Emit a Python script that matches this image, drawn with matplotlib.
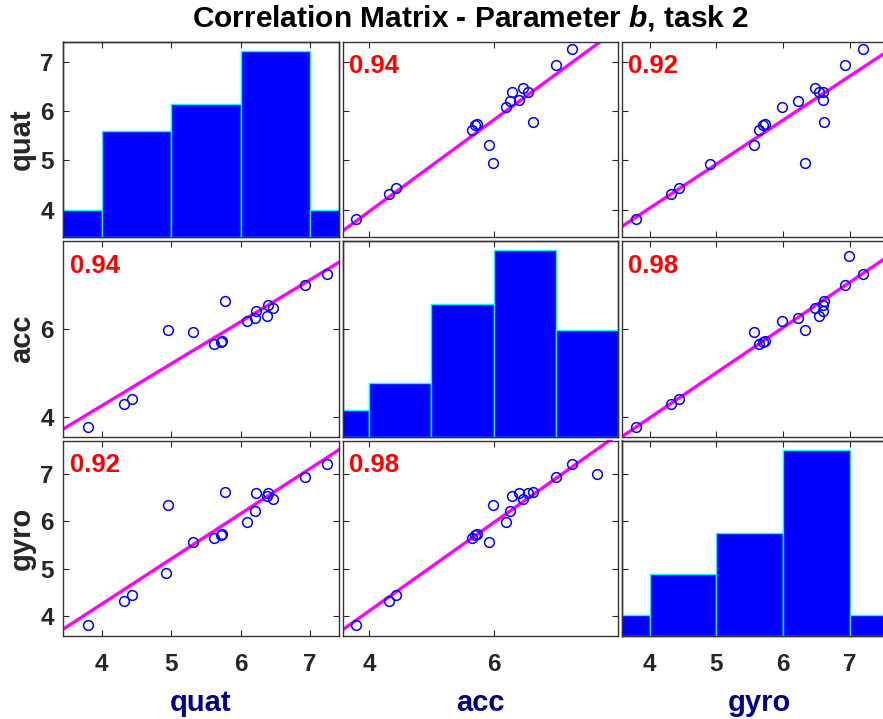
import numpy as np
import matplotlib
matplotlib.use("Agg")
import matplotlib.pyplot as plt

nan = np.nan

# Variables (one entry per trial; NaN = missing measurement)
var_names = ["quat", "acc", "gyro"]
quat = [3.806, 4.321, 4.442, 5.614, 5.711, 5.736, 5.313, 4.953, 6.086, 6.212,
        6.382, 6.219, 6.465, 6.389, 5.770, 6.934, 7.249, nan, 4.924, nan]
acc = [3.787, 4.316, 4.425, 5.651, 5.700, 5.727, 5.924, 5.989, 6.191, 6.256,
       6.289, 6.414, 6.469, 6.553, 6.627, 7.006, 7.253, 7.662, nan, 7.450]
gyro = [3.803, 4.320, 4.444, 5.636, 5.705, 5.728, 5.560, 6.331, 5.986, 6.222,
        6.540, 6.599, 6.472, 6.592, 6.610, 6.930, 7.200, 6.986, 4.901, nan]

# Pairwise correlation coefficients shown in the off-diagonal panels
corr_labels = {(0, 1): "0.94", (0, 2): "0.92", (1, 2): "0.98"}

# Axis limits and ticks per variable
limits = [(3.45, 7.41), (3.57, 7.99), (3.58, 7.70)]
ticks = [[4, 5, 6, 7], [4, 6], [4, 5, 6, 7]]
hist_edges = [3, 4, 5, 6, 7, 8]

data = [np.array(quat), np.array(acc), np.array(gyro)]

plt.rcParams["font.family"] = ["Liberation Sans", "DejaVu Sans"]
plt.rcParams["font.weight"] = "bold"
plt.rcParams["mathtext.fontset"] = "custom"
plt.rcParams["mathtext.it"] = "Liberation Sans:italic:bold"
plt.rcParams["mathtext.rm"] = "Liberation Sans:bold"

W, H = 883, 719
fig = plt.figure(figsize=(W / 100, H / 100), dpi=100)

col_left = [63.5, 342.5, 621.5]
col_w = 275
row_top = [41.5, 241.0, 440.5]
row_h = 195.5

tick_col = "0.15"
spine_col = "0.2"

for i in range(3):
    for j in range(3):
        rect = [col_left[j] / W, 1 - (row_top[i] + row_h) / H, col_w / W, row_h / H]
        ax = fig.add_axes(rect)
        ax.set_xlim(limits[j])
        ax.set_ylim(limits[i])
        ax.set_xticks(ticks[j])
        ax.set_yticks(ticks[i])
        ax.tick_params(direction="in", length=4, width=0.8, top=True, right=True,
                       colors=tick_col, labelsize=17.5,
                       labelleft=(j == 0), labelbottom=(i == 2))
        ax.tick_params(axis="x", pad=12)
        ax.tick_params(axis="y", pad=7)
        for lab in ax.get_xticklabels() + ax.get_yticklabels():
            lab.set_fontweight("bold")
        for sp in ax.spines.values():
            sp.set_color(spine_col)
            sp.set_linewidth(1.0)

        if i == j:
            v = data[i][~np.isnan(data[i])]
            hx = ax.twinx()
            counts, _, _ = hx.hist(v, bins=hist_edges, color=(0, 0, 1),
                                   edgecolor=(0, 1, 1), linewidth=1.0)
            hx.set_ylim(0, counts.max() * 1.05)
            hx.set_yticks([])
            hx.set_xlim(limits[j])
            for sp in hx.spines.values():
                sp.set_color(spine_col)
                sp.set_linewidth(1.0)
        else:
            x = data[j]
            y = data[i]
            ok = ~np.isnan(x) & ~np.isnan(y)
            ax.plot(x[ok], y[ok], "o", ms=7, mfc="none", mec=(0, 0, 1), mew=1.1,
                    zorder=3)
            slope, icpt = np.polyfit(x[ok], y[ok], 1)
            xl = np.array(limits[j])
            ax.plot(xl, slope * xl + icpt, color=(1, 0, 1), lw=2.4, zorder=2)
            key = (min(i, j), max(i, j))
            ax.text(0.025, 0.935, corr_labels[key], transform=ax.transAxes,
                    color="red", fontsize=18.5, fontweight="bold",
                    ha="left", va="top", zorder=4)

        if j == 0:
            ax.set_ylabel(var_names[i], fontsize=21, fontweight="bold",
                          color="0.15", va="center")
            ax.yaxis.set_label_coords(-0.15, 0.5)
        if i == 2:
            ax.set_xlabel(var_names[j], fontsize=21, fontweight="bold",
                          color=(0, 0, 0.55), va="center")
            ax.xaxis.set_label_coords(0.5, -0.345)

fig.text(470 / W, 1 - 18 / H, r"Correlation Matrix - Parameter $b$, task 2",
         ha="center", va="center", fontsize=21.5, fontweight="bold", color="black")

fig.savefig("out.png", dpi=100)
